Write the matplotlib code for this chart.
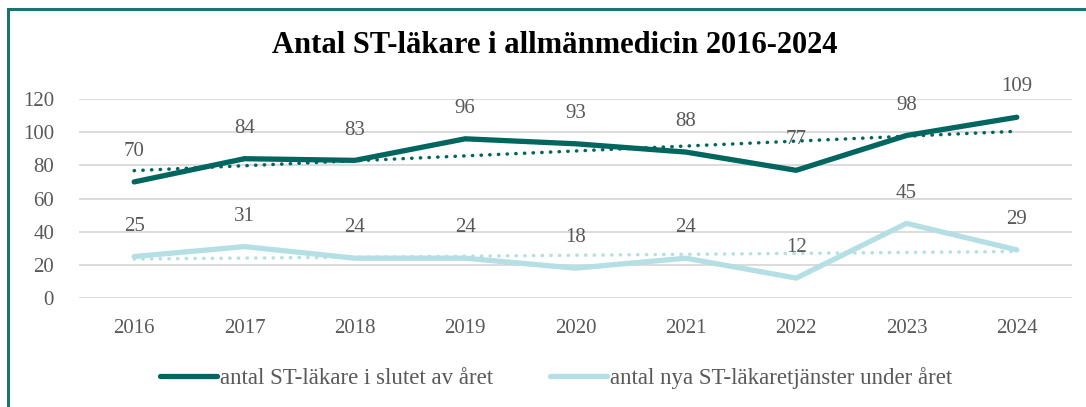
import numpy as np
import matplotlib.pyplot as plt
from matplotlib.patches import Rectangle

years = ["2016", "2017", "2018", "2019", "2020", "2021", "2022", "2023", "2024"]
st_lakare = [70, 84, 83, 96, 93, 88, 77, 98, 109]
nya_tjanster = [25, 31, 24, 24, 18, 24, 12, 45, 29]

dark = "#00665f"
light = "#b4dfe5"
grey = "#595959"

plt.rcParams["font.family"] = ["Liberation Serif", "DejaVu Serif"]

fig = plt.figure(figsize=(10.86, 4.07), dpi=100)
ax = fig.add_axes([79 / 1086, 1 - 298 / 407, (1072 - 79) / 1086, (298 - 99) / 407])

x = np.arange(len(years))
for vals, col, lab in [(st_lakare, dark, "antal ST-läkare i slutet av året"),
                       (nya_tjanster, light, "antal nya ST-läkaretjänster under året")]:
    ax.plot(x, vals, color=col, lw=3.8, solid_joinstyle="round", solid_capstyle="round", label=lab, zorder=3)
    # linear trendline
    k, m = np.polyfit(x, vals, 1)
    ax.plot(x, k * x + m, color=col, lw=2.5, ls=(0, (0.1, 2.4)), dash_capstyle="round", zorder=2)
    for xi, v in zip(x, vals):
        ax.annotate(str(v), (xi, v), xytext=(0, 15), textcoords="offset points",
                    ha="center", va="bottom", fontsize=15, color=grey, zorder=4)

ax.set_xlim(-0.5, len(years) - 0.5)
ax.set_ylim(0, 120)
ax.set_yticks(range(0, 121, 20))
ax.set_xticks(x)
ax.set_xticklabels(years)
ax.yaxis.grid(True, color="#d9d9d9", lw=1.3)
ax.set_axisbelow(True)
for s in ax.spines.values():
    s.set_visible(False)
ax.tick_params(length=0, labelsize=15, labelcolor=grey)
ax.tick_params(axis="y", pad=18)
ax.tick_params(axis="x", pad=15)

fig.text(0.511, 0.888, "Antal ST-läkare i allmänmedicin 2016-2024", ha="center", va="center",
         fontsize=22, fontweight="bold", color="black")

fig.legend(loc="center", bbox_to_anchor=(0.512, 0.072), ncol=2, frameon=False, fontsize=16.5,
           labelcolor=grey, handlelength=2.5, handletextpad=0.1, columnspacing=2.5)

fig.patches.append(Rectangle((8 / 1086, -0.1), 1.2, 1.1 - 9 / 407, transform=fig.transFigure,
                             fill=False, edgecolor="#1a7370", lw=2.2))

fig.savefig("out.png", dpi=100)
